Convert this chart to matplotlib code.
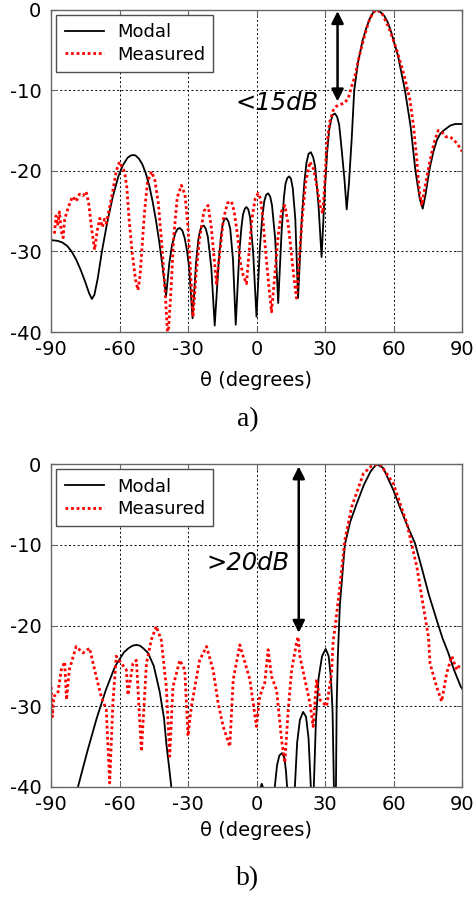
import matplotlib
matplotlib.use("Agg")
import matplotlib.pyplot as plt
import numpy as np

plt.rcParams['font.family'] = ['DejaVu Sans']
plt.rcParams['axes.unicode_minus'] = False

# ---- panel a) ----
a_modal_th = [-90, -87, -85, -83, -81, -79, -77, -75, -73.3, -72.1, -71, -69.5, -67.7, -65.5, -63,
              -60.5, -58.5, -56.5, -55, -54, -53, -51.5, -50, -48.5, -47, -45.5, -44, -42.5, -41.2,
              -39.6, -38.2, -37, -35.5, -34.5, -33.6, -32.5, -31.5, -30.5, -29.5, -28, -26.5, -25.5,
              -24.8, -24, -23.1, -22.2, -21.3, -19.8, -18.3, -16.5, -15.5, -14.8, -14, -13.2, -12.3,
              -11.5, -10.3, -9.1, -7.5, -6.6, -5.9, -5.1, -4.4, -3.6, -2.8, -1.5, 0, 1.5, 2.5, 3.4,
              4.2, 5.1, 6, 6.8, 8.2, 9.5, 11, 12, 12.7, 13.5, 14.3, 15.1, 15.9, 17, 18.2, 19.8, 21,
              21.9, 22.8, 23.8, 24.8, 25.7, 27.2, 28.5, 30, 31, 31.8, 32.6, 33.3, 34.3, 35.3, 36.2,
              37, 38.5, 39.5, 40.5, 41.7, 42.8, 44.5, 46.5, 48, 49.5, 51, 52.6, 54.2, 56, 57.5, 59,
              62, 65, 67.5, 69.6, 71.5, 72.8, 74, 75, 76, 77.5, 79, 80.5, 82, 84.8, 87, 90]
a_modal_db = [-28.6, -28.7, -28.9, -29.3, -30, -31, -32.3, -33.8, -35.2, -35.9, -35.4, -33.3, -30,
              -26.6, -23.3, -20.7, -19.3, -18.4, -18.1, -18.05, -18.1, -18.5, -19.2, -20.3, -21.8,
              -23.8, -26.2, -29, -31.8, -35.5, -31.5, -29.2, -27.7, -27.2, -27.1, -27.4, -28.3,
              -29.8, -32, -38.3, -31.5, -28.6, -27.5, -26.9, -26.8, -27.2, -28.2, -32, -39.2, -31,
              -28, -26.6, -26, -25.9, -26.3, -27.2, -31, -39.1, -30, -27, -25.4, -24.7, -24.5,
              -24.8, -25.8, -30, -38.1, -29.5, -25.8, -23.8, -23, -22.8, -23.2, -24.3, -28.5,
              -36.4, -27.5, -23.3, -21.6, -20.9, -20.7, -21, -22.2, -26, -35.8, -26, -21.3, -19,
              -17.9, -17.7, -18.3, -19.5, -24.5, -30.7, -22, -17.5, -15, -13.8, -13.1, -12.9,
              -13.3, -14.3, -16.5, -21, -24.8, -21.5, -16, -10, -6.5, -3.8, -2.4, -1.2, -0.4, 0,
              -0.3, -0.8, -1.6, -2.8, -5.8, -10, -14.5, -20, -23.5, -24.7, -23, -21.2, -19.5, -17.6,
              -16.2, -15.4, -15, -14.4, -14.2, -14.2]

a_meas_th = [-88.5, -87.8, -87.1, -86.3, -85.5, -84.7, -84, -82.5, -81, -80.4, -79, -77.5, -76, -74.6,
             -73.5, -72.3, -70.9, -69.8, -68.6, -67.5, -66.6, -65.8, -64.3, -62.8, -61.4, -60, -59,
             -57.8, -56.8, -55.8, -54.5, -53, -51.9, -51, -50, -49, -47.8, -46, -44.5, -43, -41.5, -40,
             -38.8, -37.5, -36.2, -34.7, -32.9, -31.3, -30, -28.8, -27.8, -26.5, -25, -23, -21.2,
             -19.8, -18.5, -17.5, -16, -14.5, -12.7, -11, -9.8, -8.3, -7, -5.8, -4.4, -3.2, -2, -0.6,
             0.7, 1.8, 2.8, 4, 5.3, 6.6, 8, 9.5, 11, 12.4, 13.8, 15, 16.3, 17.5, 18.7, 20, 21.5, 23.4,
             25, 26.5, 28, 29, 29.8, 30.7, 32, 33.6, 35, 36.5, 38.5, 40.2, 41.7, 43.1, 45, 46.8, 49,
             51, 52.6, 55, 58, 61.4, 64.5, 67.2, 68.8, 70.2, 71.3, 72.4, 73.5, 74.8, 76, 77.8, 79.6,
             81.5, 83, 84.8, 86.5, 88.3, 90]
a_meas_db = [-27.8, -25.6, -26.8, -25.1, -27.5, -28.3, -26, -24.6, -23.5, -23.2, -23.8, -22.9, -23.1,
             -22.6, -24, -27, -29.8, -27.5, -25.9, -27, -26, -26.5, -24.5, -22.3, -20, -18.9, -19.5,
             -20.1, -22, -26, -30, -33.5, -34.8, -33, -29, -25, -21.5, -20.1, -21.2, -24, -29, -35,
             -41, -35, -28, -23.3, -21.8, -23, -27, -33, -38.1, -33, -28.5, -25, -24.3, -27, -31, -34,
             -30, -26, -24, -23.8, -25, -28, -31.5, -33, -34, -30, -26, -23.5, -22.8, -23.5, -26, -30,
             -34, -37.5, -33, -28, -25, -24.3, -26.5, -29.5, -33, -35.8, -31, -26, -21.5, -18.9,
             -19.8, -22, -24.5, -25.3, -22, -17, -14, -12.5, -12, -11.8, -11.6, -11, -9.5, -8.3,
             -5.8, -3.8, -1.6, -0.4, 0, -0.5, -2.3, -5.0, -8, -11.2, -14.5, -18.7, -22.5, -24.3,
             -22.5, -20.5, -18.7, -16.5, -15, -15.3, -15.8, -15.8, -16.2, -16.8, -17.6]

# ---- panel b) ----
b_modal_th = [-78.2, -74, -70, -66, -62, -58, -56, -54.3, -52.6, -51, -49.3, -47.5, -45, -42.4, -40.5,
              -39.5, -38.3, -37.3, -35, 1, 1.8, 2.3, 2.8, 4, 8, 9, 10, 11.2, 12.2, 12.9, 13.4, 15,
              16.8, 17.8, 19, 20.4, 21.7, 22.8, 23.8, 24.5, 25.1, 26, 27.2, 28.7, 30.3, 31.6, 32.6,
              33.3, 33.9, 34.4, 34.8, 35.1, 35.6, 36.5, 38.7, 41, 43.9, 47, 50, 52.6, 55.5, 59.9, 63,
              66, 69.4, 72.5, 75.5, 78.9, 81.5, 84, 86.5, 89.5, 90]
b_modal_db = [-40, -35.5, -31.5, -28, -25.1, -23.3, -22.8, -22.5, -22.4, -22.5, -22.9, -23.4, -25,
              -28.2, -31.5, -34.6, -37.5, -40, -50, -50, -40, -39.6, -40, -50, -40, -37.3, -36.1,
              -35.8, -36.4, -38, -40, -50, -40, -34.5, -31.7, -30.7, -31.3, -34, -40, -50, -40, -32,
              -26.5, -23.8, -22.9, -23.8, -26.5, -30.5, -40, -50, -40, -30, -24, -17.5, -10, -7.2,
              -4.9, -2.6, -0.9, 0, -0.5, -3.2, -5.5, -7.6, -9.8, -13, -16.2, -19.3, -21.6, -23.4,
              -25.5, -27.6, -27.8]

b_meas_th = [-89.9, -89.4, -88.8, -87, -85.5, -84, -83.2, -82, -79, -76, -73.1, -70.2, -68, -65.8,
             -64.3, -62.9, -61.4, -59.2, -57, -56.3, -54.1, -52.6, -50.4, -48.2, -46.1, -43.9, -41.7,
             -39.5, -38, -36.6, -33.6, -31.4, -30, -28.5, -24.9, -21.9, -19, -16.8, -14.6, -11.7,
             -10.2, -7.3, -2.9, 0, 1.4, 3.6, 5.1, 6.6, 8.8, 11, 12.4, 13.9, 15.4, 17.5, 18.2, 19,
             21.2, 23.4, 24.8, 26.3, 27.8, 30.7, 32.9, 33.6, 34.3, 36.5, 38.7, 41.7, 46.8, 50.5, 54.1,
             59.9, 65.8, 70.2, 73.1, 75.3, 76, 78.9, 81.1, 83.3, 85.5, 87.7, 89.5]
b_meas_db = [-27.6, -31.3, -28.8, -28.4, -25.5, -24.5, -29.2, -25.5, -22.6, -23.4, -22.8, -26.3,
             -28.8, -30.4, -39.5, -29.6, -23.8, -24.7, -25.5, -28.6, -24.7, -24.3, -35.6, -24.7,
             -21.8, -20.1, -21.8, -27.6, -36.2, -27.6, -24.3, -25.5, -33.7, -30.0, -24.3, -22.6,
             -25.5, -29.6, -32.5, -35, -26.7, -22.4, -26.7, -32.5, -28.8, -27.1, -23, -26.3, -28,
             -34.2, -37, -30.4, -25.5, -22.2, -21.4, -23.8, -26.7, -29.6, -32.5, -26.7, -29.2, -30,
             -25.9, -21.8, -20.5, -15.2, -9.4, -5.3, -1.2, -0.2, 0, -2.4, -7.3, -12.7, -17.7, -21.4,
             -24.7, -27.6, -29.4, -25.9, -23.8, -25.5, -24.7]

xticks = [-90, -60, -30, 0, 30, 60, 90]
yticks = [-40, -30, -20, -10, 0]

panels = [
    dict(modal=(a_modal_th, a_modal_db), meas=(a_meas_th, a_meas_db), label='a)',
         arrow_x=35.5, arrow_y=(-0.2, -11.4), text='<15dB', text_x=27.3, text_y=-11.6,
         rect=[51/474, 1-332/899, 411/474, 322.5/899], xlab_y=1-380/899, tag_y=1-420/899),
    dict(modal=(b_modal_th, b_modal_db), meas=(b_meas_th, b_meas_db), label='b)',
         arrow_x=18.5, arrow_y=(-0.3, -20.9), text='>20dB', text_x=14.6, text_y=-12.3,
         rect=[51/474, 1-787/899, 411/474, 323/899], xlab_y=1-830/899, tag_y=1-879/899),
]

fig = plt.figure(figsize=(4.74, 8.99), dpi=100)

for p in panels:
    ax = fig.add_axes(p['rect'])
    ax.plot(p['modal'][0], p['modal'][1], color='black', lw=1.3, label='Modal')
    ax.plot(p['meas'][0], p['meas'][1], color='red', lw=2, linestyle=(0, (1, 1)), label='Measured')
    ax.set_xlim(-90, 90)
    ax.set_ylim(-40, 0)
    ax.set_xticks(xticks)
    ax.set_yticks(yticks)
    ax.grid(True, color='black', linestyle=(0, (2, 2.5)), linewidth=0.7)
    ax.tick_params(direction='in', top=True, right=True, length=4, labelsize=14, color='0.4')
    ax.tick_params(axis='y', pad=7)
    ax.tick_params(axis='x', pad=6)
    for s in ax.spines.values():
        s.set_color('0.4')
        s.set_linewidth(1.0)
    ax.legend(loc='upper left', fontsize=13, frameon=True, fancybox=False, edgecolor='0.3',
              framealpha=1, borderaxespad=0.3, handlelength=2.2, handletextpad=0.7,
              labelspacing=0.25, borderpad=0.45)
    ax.annotate('', xy=(p['arrow_x'], p['arrow_y'][1]), xytext=(p['arrow_x'], p['arrow_y'][0]),
                arrowprops=dict(arrowstyle='<|-|>', color='black', lw=1.8, mutation_scale=18,
                                shrinkA=0, shrinkB=0))
    ax.text(p['text_x'], p['text_y'], p['text'], style='italic', fontsize=17.5,
            ha='right', va='center')
    fig.text(0.54, p['xlab_y'], '\u03b8 (degrees)', fontsize=14, ha='center', va='center')
    fig.text(0.523, p['tag_y'], p['label'], fontsize=20, family='Liberation Serif',
             ha='center', va='center')

fig.savefig('out.png', dpi=100)
